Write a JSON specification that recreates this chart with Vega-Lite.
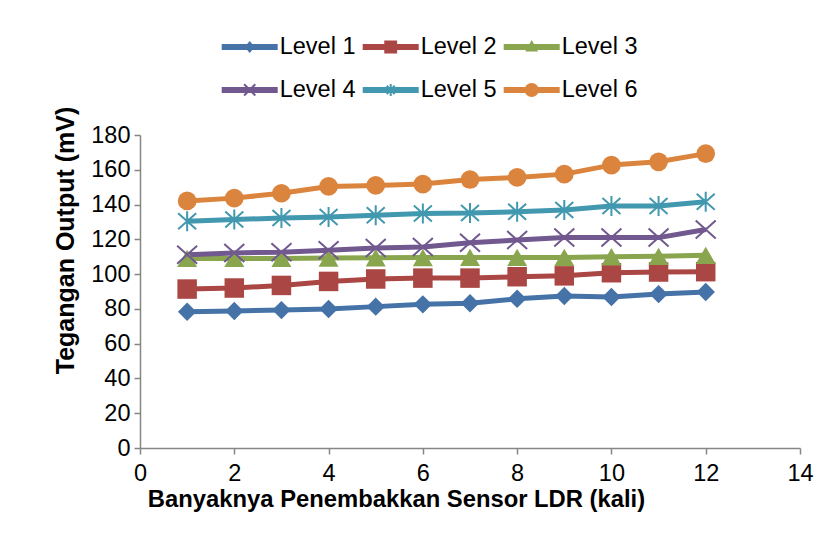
{
  "$schema": "https://vega.github.io/schema/vega-lite/v6.json",
  "width": 660,
  "height": 313,
  "autosize": {"type": "none"},
  "padding": {"left": 140, "top": 135, "right": 34, "bottom": 107},
  "background": "white",
  "config": {
    "view": {"stroke": null},
    "font": "Liberation Sans",
    "legend": {
      "labelFontSize": 23.5,
      "labelFont": "Liberation Sans",
      "labelColor": "black",
      "labelBaseline": "middle",
      "symbolSize": 784,
      "symbolStrokeWidth": 0,
      "labelOffset": 30,
      "columnPadding": 7,
      "rowPadding": 17.2,
      "padding": 0,
      "symbolOpacity": 1
    }
  },
  "data": {
    "values": [
      {"x": 1, "Level 1": 78.4, "Level 2": 91.4, "Level 3": 109.0, "Level 4": 111.2, "Level 5": 130.4, "Level 6": 142.1},
      {"x": 2, "Level 1": 78.8, "Level 2": 92.0, "Level 3": 109.0, "Level 4": 112.2, "Level 5": 131.4, "Level 6": 143.7},
      {"x": 3, "Level 1": 79.3, "Level 2": 93.5, "Level 3": 109.0, "Level 4": 112.6, "Level 5": 132.2, "Level 6": 146.5},
      {"x": 4, "Level 1": 79.9, "Level 2": 95.8, "Level 3": 109.2, "Level 4": 113.7, "Level 5": 132.9, "Level 6": 150.4},
      {"x": 5, "Level 1": 81.3, "Level 2": 97.2, "Level 3": 109.4, "Level 4": 115.0, "Level 5": 133.9, "Level 6": 151.0},
      {"x": 6, "Level 1": 82.6, "Level 2": 97.7, "Level 3": 109.5, "Level 4": 115.6, "Level 5": 134.9, "Level 6": 151.8},
      {"x": 7, "Level 1": 83.2, "Level 2": 97.7, "Level 3": 109.6, "Level 4": 118.0, "Level 5": 135.1, "Level 6": 154.4},
      {"x": 8, "Level 1": 85.8, "Level 2": 98.5, "Level 3": 109.6, "Level 4": 119.6, "Level 5": 135.9, "Level 6": 155.6},
      {"x": 9, "Level 1": 87.4, "Level 2": 99.0, "Level 3": 109.6, "Level 4": 121.1, "Level 5": 136.9, "Level 6": 157.5},
      {"x": 10, "Level 1": 86.8, "Level 2": 100.8, "Level 3": 110.0, "Level 4": 121.0, "Level 5": 139.2, "Level 6": 162.7},
      {"x": 11, "Level 1": 88.5, "Level 2": 101.2, "Level 3": 110.2, "Level 4": 121.0, "Level 5": 139.2, "Level 6": 164.6},
      {"x": 12, "Level 1": 89.7, "Level 2": 101.4, "Level 3": 110.8, "Level 4": 125.7, "Level 5": 141.6, "Level 6": 169.3}
    ]
  },
  "transform": [
    {"fold": ["Level 1", "Level 2", "Level 3", "Level 4", "Level 5", "Level 6"], "as": ["level", "v"]}
  ],
  "encoding": {
    "x": {
      "field": "x",
      "type": "quantitative",
      "scale": {"domain": [0, 14], "nice": false},
      "axis": {
        "values": [0, 2, 4, 6, 8, 10, 12, 14],
        "grid": false,
        "domainColor": "#868686",
        "domainWidth": 1.5,
        "tickColor": "#868686",
        "tickWidth": 1.5,
        "tickSize": 6,
        "labelFontSize": 23.5,
        "labelColor": "black",
        "labelPadding": 7,
        "labelFlush": false,
        "labelOverlap": false,
        "title": "Banyaknya Penembakkan Sensor LDR (kali)",
        "titleFontSize": 23.8,
        "titleFontWeight": "bold",
        "titleColor": "black",
        "titleX": 256,
        "titleY": 51,
        "titleAlign": "center",
        "titleBaseline": "middle"
      }
    },
    "y": {
      "field": "v",
      "type": "quantitative",
      "scale": {"domain": [0, 180], "nice": false},
      "axis": {
        "values": [0, 20, 40, 60, 80, 100, 120, 140, 160, 180],
        "grid": false,
        "domainColor": "#868686",
        "domainWidth": 1.5,
        "tickColor": "#868686",
        "tickWidth": 1.5,
        "tickSize": 6,
        "labelFontSize": 23.5,
        "labelColor": "black",
        "labelPadding": 4,
        "labelOverlap": false,
        "labelFlush": false,
        "title": "Tegangan Output (mV)",
        "titleFontSize": 25,
        "titleFontWeight": "bold",
        "titleColor": "black",
        "titleAngle": -90,
        "titleX": -75,
        "titleY": 105,
        "titleAlign": "center",
        "titleBaseline": "middle"
      }
    }
  },
  "layer": [
    {
      "mark": {"type": "line", "strokeWidth": 5, "strokeJoin": "round"},
      "encoding": {
        "color": {
          "field": "level",
          "type": "nominal",
          "scale": {
            "domain": ["Level 1", "Level 2", "Level 3", "Level 4", "Level 5", "Level 6"],
            "range": ["#4572A7", "#AA4643", "#89A54E", "#71588F", "#4198AF", "#DB843D"]
          },
          "legend": {"orient": "none", "legendX": 81.7, "legendY": -102.3, "columns": 3, "direction": "horizontal", "title": null}
        }
      }
    },
    {
      "mark": {"type": "point", "filled": true, "opacity": 0, "size": 10},
      "encoding": {
        "color": {
          "field": "level",
          "type": "nominal",
          "scale": {
            "domain": ["Level 1", "Level 2", "Level 3", "Level 4", "Level 5", "Level 6"],
            "range": ["#4572A7", "#AA4643", "#89A54E", "#71588F", "#4198AF", "#DB843D"]
          },
          "legend": {"orient": "none", "legendX": 81.7, "legendY": -102.3, "columns": 3, "direction": "horizontal", "title": null}
        },
        "shape": {
          "field": "level",
          "type": "nominal",
          "scale": {
            "domain": ["Level 1", "Level 2", "Level 3", "Level 4", "Level 5", "Level 6"],
            "range": [
              "M-1,-0.214H3V0.214H-1Z M1,-0.43L1.36,0L1,0.43L0.64,0Z",
              "M-1,-0.214H3V0.214H-1Z M0.54,-0.46H1.46V0.46H0.54Z",
              "M-1,-0.214H3V0.214H-1Z M1,-0.5L1.46,0.32H0.54Z",
              "M-1,-0.214H3V0.214H-1Z M0.65,-0.45L1.45,0.35L1.35,0.45L0.55,-0.35Z M0.55,0.35L1.35,-0.45L1.45,-0.35L0.65,0.45Z",
              "M-1,-0.214H3V0.214H-1Z M0.93,-0.43H1.07V0.43H0.93Z M0.77,-0.35L1.33,0.25L1.23,0.35L0.67,-0.25Z M0.67,0.25L1.23,-0.35L1.33,-0.25L0.77,0.35Z",
              "M-1,-0.214H3V0.214H-1Z M0.5,0A0.5,0.5 0 1,1 1.5,0A0.5,0.5 0 1,1 0.5,0Z"
            ]
          },
          "legend": {"orient": "none", "legendX": 81.7, "legendY": -102.3, "columns": 3, "direction": "horizontal", "title": null}
        }
      }
    },
    {
      "transform": [{"filter": "datum.level === 'Level 1'"}],
      "mark": {"type": "point", "shape": "diamond", "filled": true, "color": "#4572A7", "size": 340, "opacity": 1}
    },
    {
      "transform": [{"filter": "datum.level === 'Level 2'"}],
      "mark": {"type": "point", "shape": "square", "filled": true, "color": "#AA4643", "size": 380, "opacity": 1}
    },
    {
      "transform": [{"filter": "datum.level === 'Level 3'"}],
      "mark": {"type": "point", "shape": "triangle-up", "filled": true, "color": "#89A54E", "size": 400, "opacity": 1}
    },
    {
      "transform": [{"filter": "datum.level === 'Level 4'"}],
      "mark": {"type": "point", "shape": "M-1,-0.9L1,0.9M-1,0.9L1,-0.9", "filled": false, "color": "#71588F", "size": 400, "strokeWidth": 2, "opacity": 1}
    },
    {
      "transform": [{"filter": "datum.level === 'Level 5'"}],
      "mark": {"type": "point", "shape": "M-0.9,-0.8L0.9,0.8M-0.9,0.8L0.9,-0.8M0,-1V1", "filled": false, "color": "#4198AF", "size": 400, "strokeWidth": 2, "opacity": 1}
    },
    {
      "transform": [{"filter": "datum.level === 'Level 6'"}],
      "mark": {"type": "point", "shape": "circle", "filled": true, "color": "#DB843D", "size": 350, "opacity": 1}
    }
  ]
}
